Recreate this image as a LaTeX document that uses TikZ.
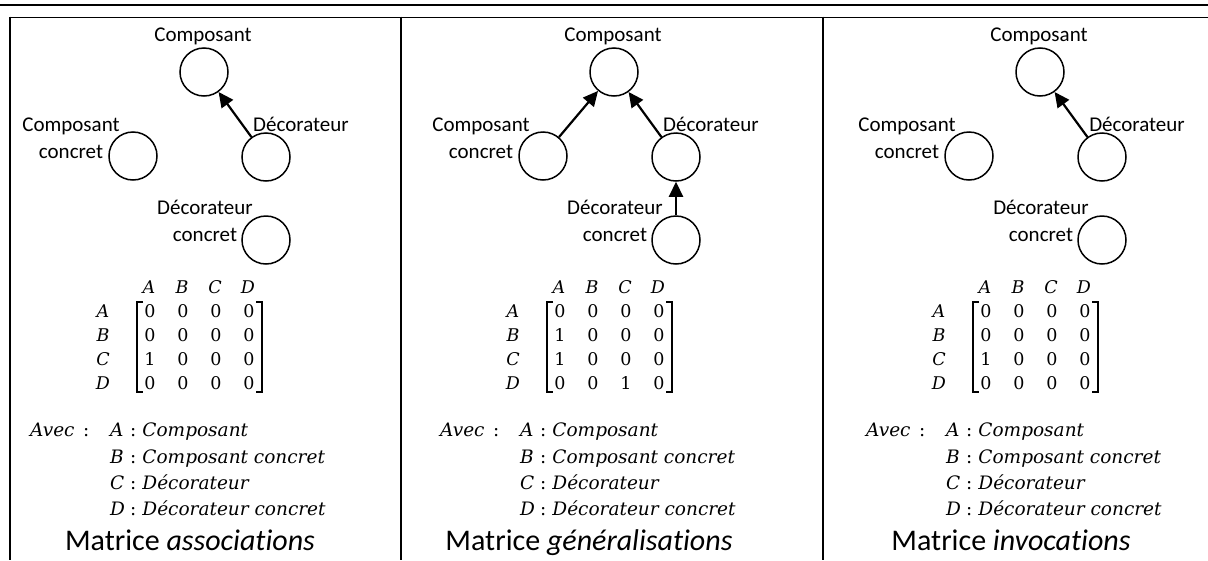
\documentclass[tikz,border=0pt]{standalone}
\usepackage{fontspec}
\newfontfamily\lblfont[Ligatures=NoCommon]{Carlito}
\newfontfamily\mfont{DejaVu Serif}
\usetikzlibrary{arrows.meta}
\tikzset{
  cnode/.style={circle, draw, line width=1.5pt, minimum size=48pt, inner sep=0pt},
  lbl/.style={font=\lblfont\fontsize{21}{27}\selectfont, align=center, inner sep=0pt, anchor=base},
  garrow/.style={line width=2.2pt, -{Triangle[length=15pt,width=14pt]}},
  mtx/.style={font=\mfont\fontsize{17.5}{21}\selectfont, inner sep=0pt, anchor=base},
  defs/.style={font=\mfont\fontsize{18.5}{22}\selectfont, inner sep=0pt, anchor=base west},
  ttl/.style={font=\lblfont\fontsize{30}{34}\selectfont, inner sep=0pt, anchor=base},
  frame/.style={line width=1.8pt},
  brk/.style={line width=1.1pt}
}
\newcommand\drawpanel[3]{%
\begin{scope}[xshift=#2]
  \node[lbl] (#1-la) at (203,41) {Composant};
  \node[lbl] (#1-lb) at (71,158) {Composant\\concret};
  \node[lbl] (#1-lc) at (301,131) {Décorateur};
  \node[lbl] (#1-ld) at (205,241) {Décorateur\\concret};
  \node[cnode] (#1-a) at (204,72) {};
  \node[cnode] (#1-b) at (133,156) {};
  \node[cnode] (#1-c) at (266,157) {};
  \node[cnode] (#1-d) at (266,240) {};
  \foreach \l [count=\c] in {A,B,C,D} {
    \node[mtx] (#1-h\c) at ({149+33*(\c-1)},293) {\itshape\l};
    \node[mtx] (#1-r\c) at (103,{317+24*(\c-1)}) {\itshape\l};
  }
  \foreach \row [count=\r] in {#3} {
    \foreach \v [count=\c] in \row {
      \node[mtx] (#1-m\r\c) at ({150+33*(\c-1)},{317+24*(\r-1)}) {\v};
    }
  }
  \draw[brk] (143,302) -- (137,302) -- (137,392) -- (143,392);
  \draw[brk] (256,302) -- (262,302) -- (262,392) -- (256,392);
  \node[defs] (#1-avec) at (30,436) {\makebox[53pt][l]{\itshape Avec}:};
  \node[defs] (#1-dA) at (110,436) {\makebox[20pt][l]{\itshape A}:\hspace{6pt}\itshape Composant};
  \node[defs] (#1-dB) at (110,463) {\makebox[20pt][l]{\itshape B}:\hspace{6pt}\itshape Composant concret};
  \node[defs] (#1-dC) at (110,489) {\makebox[20pt][l]{\itshape C}:\hspace{6pt}\itshape Décorateur};
  \node[defs] (#1-dD) at (110,515) {\makebox[20pt][l]{\itshape D}:\hspace{6pt}\itshape Décorateur concret};
\end{scope}}
\begin{document}
\begin{tikzpicture}[x=1pt,y=-1pt]
  \useasboundingbox (0,0) rectangle (1208,560);
  \fill[white] (0,0) rectangle (1208,560);
  % frame
  \draw[frame] (0,5) -- (1208,5);
  \draw[frame] (9.7,17.5) -- (1208,17.5);
  \draw[frame] (9.7,16.6) -- (9.7,560);
  \draw[frame] (400.7,16.6) -- (400.7,560);
  \draw[frame] (822.7,16.6) -- (822.7,560);
  % panels
  \drawpanel{p1}{0}{{0,0,0,0},{0,0,0,0},{1,0,0,0},{0,0,0,0}}
  \drawpanel{p2}{410}{{0,0,0,0},{1,0,0,0},{1,0,0,0},{0,0,1,0}}
  \drawpanel{p3}{836}{{0,0,0,0},{0,0,0,0},{1,0,0,0},{0,0,0,0}}
  % arrows
  \draw[garrow] (p1-c) -- (p1-a);
  \draw[garrow] (p2-b) -- (p2-a);
  \draw[garrow] (p2-c) -- (p2-a);
  \draw[garrow] (p2-d) -- (p2-c);
  \draw[garrow] (p3-c) -- (p3-a);
  % titles
  \node[ttl] (t1) at (190,550) {Matrice \textit{associations}};
  \node[ttl] (t2) at (589,550) {Matrice \textit{généralisations}};
  \node[ttl] (t3) at (1011,550) {Matrice \textit{invocations}};
\end{tikzpicture}
\end{document}
